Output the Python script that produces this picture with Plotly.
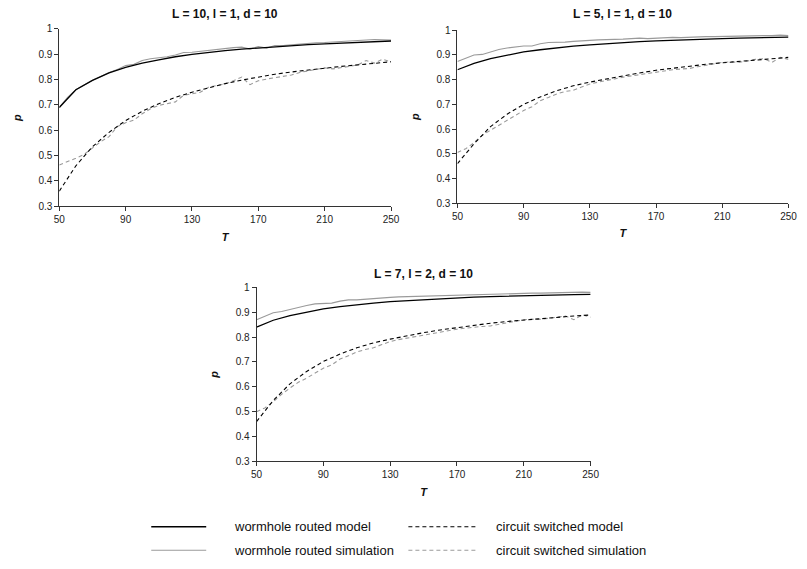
import plotly.graph_objects as go

# ---------------- data ----------------
T_model = [50, 60, 70, 80, 90, 100, 110, 120, 130, 140, 150, 160, 170, 180, 190, 200, 210, 220, 230, 240, 250]
T_sim = [50, 55, 60, 65, 70, 75, 80, 85, 90, 95, 100, 105, 110, 115, 120, 125, 130, 135, 140, 145, 150,
         155, 160, 165, 170, 175, 180, 185, 190, 195, 200, 205, 210, 215, 220, 225, 230, 235, 240, 245, 250]

titles = ["L = 10, l = 1, d = 10", "L = 5, l = 1, d = 10", "L = 7, l = 2, d = 10"]

# Panel 1: L=10, l=1, d=10
wm_model_1 = [0.690, 0.760, 0.797, 0.826, 0.848, 0.865, 0.878, 0.890, 0.899, 0.907, 0.914, 0.920, 0.925, 0.930, 0.934, 0.938, 0.941, 0.944, 0.947, 0.950, 0.952]
wm_sim_1 = [0.690, 0.730, 0.760, 0.780, 0.797, 0.812, 0.828, 0.840, 0.855, 0.860, 0.875, 0.882, 0.885, 0.890, 0.897, 0.907, 0.908, 0.912, 0.915, 0.918, 0.922,
            0.926, 0.928, 0.920, 0.930, 0.924, 0.934, 0.934, 0.937, 0.940, 0.944, 0.945, 0.946, 0.947, 0.950, 0.952, 0.953, 0.956, 0.958, 0.957, 0.956]
cs_model_1 = [0.360, 0.460, 0.535, 0.592, 0.638, 0.675, 0.705, 0.730, 0.750, 0.768, 0.784, 0.798, 0.810, 0.821, 0.830, 0.838, 0.845, 0.852, 0.858, 0.864, 0.870]
cs_sim_1 = [0.463, 0.475, 0.490, 0.505, 0.530, 0.555, 0.575, 0.615, 0.630, 0.640, 0.665, 0.685, 0.698, 0.705, 0.712, 0.738, 0.745, 0.750, 0.770, 0.775, 0.783,
            0.795, 0.810, 0.780, 0.795, 0.802, 0.808, 0.815, 0.818, 0.828, 0.835, 0.840, 0.846, 0.842, 0.846, 0.852, 0.858, 0.875, 0.865, 0.880, 0.870]

# Panel 2: L=5, l=1, d=10
wm_model_2 = [0.840, 0.866, 0.885, 0.900, 0.912, 0.921, 0.929, 0.936, 0.941, 0.946, 0.950, 0.954, 0.957, 0.960, 0.962, 0.964, 0.966, 0.968, 0.970, 0.971, 0.972]
wm_sim_2 = [0.873, 0.885, 0.900, 0.902, 0.913, 0.922, 0.928, 0.933, 0.936, 0.936, 0.945, 0.950, 0.950, 0.952, 0.955, 0.958, 0.958, 0.961, 0.962, 0.962, 0.964,
            0.966, 0.968, 0.966, 0.968, 0.970, 0.971, 0.970, 0.972, 0.973, 0.974, 0.974, 0.975, 0.976, 0.975, 0.977, 0.978, 0.978, 0.978, 0.980, 0.978]
cs_model_2 = [0.460, 0.540, 0.610, 0.660, 0.700, 0.730, 0.755, 0.775, 0.790, 0.803, 0.815, 0.827, 0.838, 0.847, 0.855, 0.862, 0.868, 0.874, 0.880, 0.885, 0.890]
cs_sim_2 = [0.505, 0.520, 0.545, 0.575, 0.595, 0.615, 0.633, 0.652, 0.675, 0.690, 0.715, 0.728, 0.742, 0.752, 0.757, 0.770, 0.782, 0.790, 0.795, 0.803, 0.810,
            0.815, 0.822, 0.827, 0.832, 0.838, 0.840, 0.843, 0.845, 0.852, 0.858, 0.866, 0.870, 0.872, 0.870, 0.875, 0.882, 0.885, 0.870, 0.890, 0.882]

# Panel 3: L=7, l=2, d=10
wm_model_3 = [0.840, 0.868, 0.887, 0.902, 0.914, 0.923, 0.931, 0.937, 0.943, 0.947, 0.951, 0.955, 0.958, 0.961, 0.963, 0.965, 0.967, 0.969, 0.970, 0.971, 0.972]
wm_sim_3 = [0.870, 0.885, 0.898, 0.903, 0.912, 0.920, 0.927, 0.934, 0.937, 0.937, 0.945, 0.950, 0.950, 0.953, 0.956, 0.958, 0.960, 0.962, 0.963, 0.963, 0.965,
            0.967, 0.968, 0.967, 0.969, 0.970, 0.971, 0.971, 0.973, 0.974, 0.974, 0.975, 0.976, 0.977, 0.977, 0.978, 0.979, 0.980, 0.980, 0.981, 0.980]
cs_model_3 = [0.460, 0.545, 0.612, 0.662, 0.702, 0.732, 0.757, 0.777, 0.792, 0.806, 0.818, 0.829, 0.839, 0.848, 0.856, 0.863, 0.869, 0.875, 0.880, 0.885, 0.889]
cs_sim_3 = [0.500, 0.515, 0.540, 0.570, 0.595, 0.618, 0.635, 0.655, 0.675, 0.688, 0.712, 0.725, 0.740, 0.750, 0.757, 0.770, 0.782, 0.790, 0.796, 0.803, 0.810,
            0.814, 0.822, 0.826, 0.832, 0.836, 0.840, 0.843, 0.845, 0.852, 0.858, 0.866, 0.870, 0.872, 0.872, 0.876, 0.882, 0.885, 0.870, 0.890, 0.880]

panels = [
    (wm_model_1, wm_sim_1, cs_model_1, cs_sim_1),
    (wm_model_2, wm_sim_2, cs_model_2, cs_sim_2),
    (wm_model_3, wm_sim_3, cs_model_3, cs_sim_3),
]

series_names = ["wormhole routed model", "wormhole routed simulation", "circuit switched model", "circuit switched simulation"]

x_ticks = [50, 90, 130, 170, 210, 250]
y_ticks = [0.3, 0.4, 0.5, 0.6, 0.7, 0.8, 0.9, 1.0]
y_tick_text = ["0.3", "0.4", "0.5", "0.6", "0.7", "0.8", "0.9", "1"]

# ---------------- layout geometry (pixels) ----------------
W, H = 807, 569
boxes = [  # left, right, top, bottom in pixels
    (54.3, 392.3, 23.3, 204.3),
    (460.0, 797.3, 24.7, 201.0),
    (255.3, 595.7, 287.0, 464.3),
]

FONT = "Liberation Sans, Arial, sans-serif"
fig = go.Figure()

styles = [
    dict(color="#000000", width=1.3, dash="solid"),
    dict(color="#9a9a9a", width=1.1, dash="solid"),
    dict(color="#000000", width=1.1, dash="4px,3px"),
    dict(color="#9a9a9a", width=1.1, dash="4px,3px"),
]

for i, (data, box) in enumerate(zip(panels, boxes)):
    xa = "x" if i == 0 else f"x{i+1}"
    ya = "y" if i == 0 else f"y{i+1}"
    xs = [T_model, T_sim, T_model, T_sim]
    for k in [1, 3, 0, 2]:
        fig.add_trace(go.Scatter(
            x=xs[k], y=data[k], mode="lines", name=series_names[k], line=styles[k],
            xaxis=xa, yaxis=ya, showlegend=False,
        ))
    l, r, t, b = box
    ax_common = dict(showgrid=False, zeroline=False, showline=True, linecolor="#333333", linewidth=1,
                     ticks="outside", ticklen=4, tickcolor="#333333",
                     tickfont=dict(family=FONT, size=10, color="#222222"))
    fig.layout[f"xaxis{'' if i == 0 else i+1}"] = dict(
        domain=[l / W, r / W], anchor=ya, range=[50, 250], tickvals=x_ticks,
        title=dict(text="<b><i>T</i></b>", font=dict(family=FONT, size=11, color="#111111"), standoff=8),
        **ax_common)
    fig.layout[f"yaxis{'' if i == 0 else i+1}"] = dict(
        domain=[1 - b / H, 1 - t / H], anchor=xa, range=[0.3, 1.0], tickvals=y_ticks, ticktext=y_tick_text,
        title=dict(text="<b><i>p</i></b>", font=dict(family=FONT, size=11, color="#111111"), standoff=14),
        **ax_common)
    fig.add_annotation(text=f"<b>{titles[i]}</b>", xref="paper", yref="paper",
                       x=(l + r) / 2 / W, y=1 - 8 / H if i < 2 else 1 - 273 / H,
                       xanchor="center", yanchor="middle",
                       showarrow=False, font=dict(family=FONT, size=12, color="#111111"))

# ---------------- legend (drawn as shapes + text, two columns) ----------------
legend_slots = [  # (series index, sample x0, sample x1, text x, row y) in pixels
    (0, 148, 204, 230, 531),
    (2, 410, 480, 497, 531),
    (1, 148, 204, 230, 555),
    (3, 410, 480, 497, 555),
]
for k, x0, x1, tx, ry in legend_slots:
    st = styles[k]
    fig.add_shape(type="line", xref="paper", yref="paper",
                  x0=x0 / W, x1=x1 / W, y0=1 - ry / H, y1=1 - ry / H,
                  line=dict(color=st["color"], width=st["width"], dash=st["dash"]))
    fig.add_annotation(text=series_names[k], xref="paper", yref="paper",
                       x=tx / W, y=1 - ry / H, xanchor="left", yanchor="middle",
                       showarrow=False, font=dict(family=FONT, size=13, color="#111111"))

fig.update_layout(
    width=W, height=H, margin=dict(l=0, r=0, t=0, b=0),
    paper_bgcolor="white", plot_bgcolor="white", showlegend=False,
)

fig.write_html("out.html", config={"displayModeBar": False},
               post_script="document.body.style.margin='0';document.body.style.overflow='hidden';")
